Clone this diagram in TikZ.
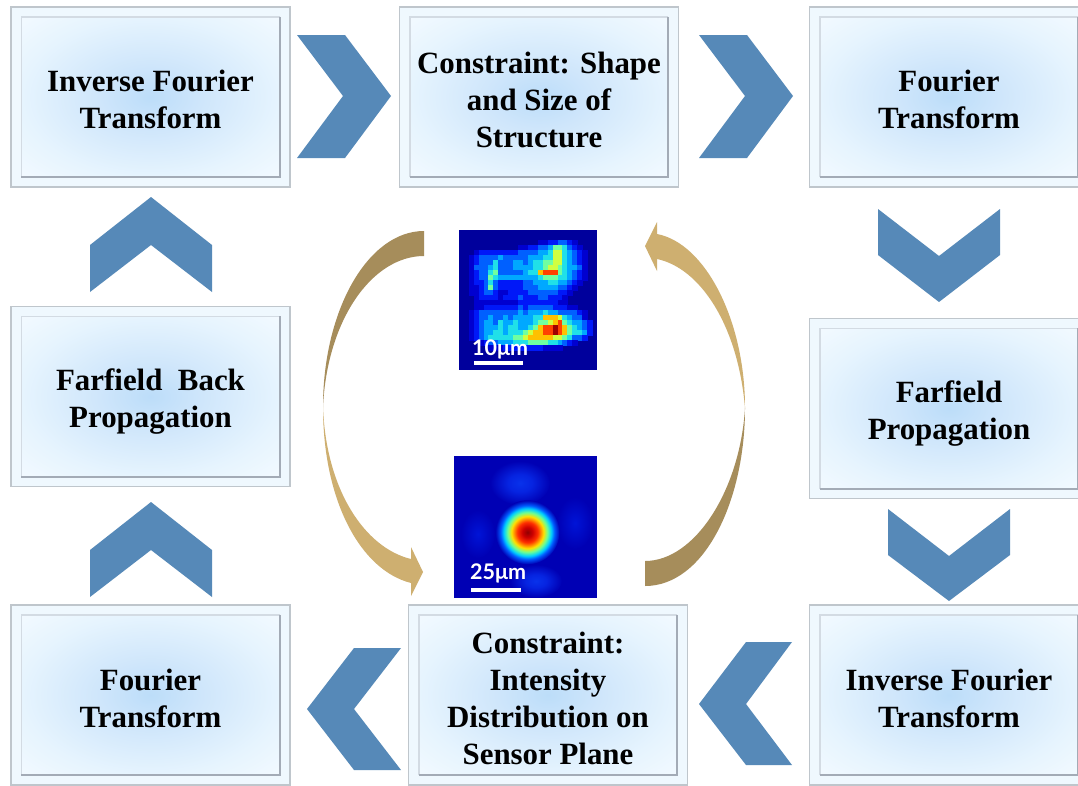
\documentclass[tikz,border=0pt]{standalone}
\usepackage{fontspec}
\setmainfont{Liberation Serif}
\newfontfamily\scalefont{Lato}
\definecolor{chev}{HTML}{5689B8}
\definecolor{darkgold}{HTML}{A68D5B}
\definecolor{lightgold}{HTML}{CEAF70}
\definecolor{ringfill}{HTML}{EFF8FE}
\definecolor{ringedge}{HTML}{BFC6CC}
\definecolor{innerlight}{HTML}{D3DBE3}
\definecolor{innerdark}{HTML}{A3ABB6}
\definecolor{heatA}{HTML}{00009C}
\definecolor{heatB}{HTML}{0000B4}
\definecolor{hmc0}{HTML}{00009C}
\definecolor{hmc1}{HTML}{0000D0}
\definecolor{hmc2}{HTML}{0018F8}
\definecolor{hmc3}{HTML}{0060FF}
\definecolor{hmc4}{HTML}{00A8FF}
\definecolor{hmc5}{HTML}{20E0E8}
\definecolor{hmc6}{HTML}{70FFA0}
\definecolor{hmc7}{HTML}{D0FF40}
\definecolor{hmc8}{HTML}{FFC000}
\definecolor{hmc9}{HTML}{FF4000}
\definecolor{hmca}{HTML}{A00000}
\definecolor{gl0}{HTML}{BCDDF9}
\definecolor{gl1}{HTML}{CFE6FB}
\definecolor{gl2}{HTML}{E6F4FE}
\definecolor{gl3}{HTML}{F3FAFF}
\definecolor{js0}{HTML}{900000}
\definecolor{js1}{HTML}{CD0000}
\definecolor{js2}{HTML}{FF3000}
\definecolor{js3}{HTML}{FFE000}
\definecolor{js4}{HTML}{70FF90}
\definecolor{js5}{HTML}{00D0FF}
\definecolor{js6}{HTML}{005AFF}
\definecolor{lobe1}{HTML}{0832EB}
\definecolor{lobe2}{HTML}{0624E1}
\definecolor{lobe3}{HTML}{0014D7}
\pgfdeclareradialshading{boxglow}{\pgfpoint{0bp}{0bp}}{%
  color(0bp)=(gl0);
  color(10bp)=(gl1);
  color(25bp)=(gl2);
  color(36bp)=(gl3);
  color(50bp)=(gl3)}
\pgfdeclareradialshading{jetspot}{\pgfpoint{0bp}{0bp}}{%
  color(0bp)=(js0);
  color(4bp)=(js1);
  color(8bp)=(js2);
  color(12.5bp)=(js3);
  color(15.5bp)=(js4);
  color(18.5bp)=(js5);
  color(21bp)=(js6);
  color(25bp)=(heatB);
  color(50bp)=(heatB)}
\pgfdeclareradialshading{lobeA}{\pgfpoint{0bp}{0bp}}{%
  color(0bp)=(lobe1);
  color(10bp)=(lobe2);
  color(25bp)=(heatB);
  color(50bp)=(heatB)}
\pgfdeclareradialshading{lobeB}{\pgfpoint{0bp}{0bp}}{%
  color(0bp)=(lobe3);
  color(25bp)=(heatB);
  color(50bp)=(heatB)}
\tikzset{
  x=1pt,y=-1pt,
  outerbox/.style={draw=ringedge,line width=1.3pt,fill=ringfill,minimum width=279pt,minimum height=180pt,inner sep=0pt},
  innerbox/.style={shade,shading=boxglow,minimum width=258pt,minimum height=160pt,inner sep=0pt},
  boxlabel/.style={font=\fontsize{30.9}{37}\selectfont\bfseries,align=center,inner sep=0pt,text=black},
  chevron/.style={fill=chev,draw=none},
  scalelabel/.style={font=\scalefont\fontsize{21.5}{21}\selectfont\bfseries,text=white,inner sep=0pt},
  scalebar/.style={fill=white,draw=none},
}
% a box: name, centre x, centre y, text centre y, text
\newcommand{\flowbox}[5]{%
  \node[outerbox] (#1o) at (#2,#3) {};
  \node[innerbox] (#1i) at (#2,#3) {};
  \draw[innerlight,line width=1.4pt] (#1i.south west) -- (#1i.north west) -- (#1i.north east);
  \draw[innerdark,line width=1.8pt] (#1i.north east) -- (#1i.south east) -- (#1i.south west);
  \node[boxlabel] (#1) at (#2,#4) {#5};
}
% one row of the pixel map
\makeatletter
\newcount\hmcol
\newcount\hmrow
\newcommand{\hmline}[1]{\hmcol=0 \hm@scan#1\relax \global\advance\hmrow by 1 }
\def\hm@scan#1{\ifx#1\relax\else
  \if#10\else
  \fill[fill=hmc#1,draw=hmc#1,line width=.2pt] ({459+\the\hmcol*4.93},{230+\the\hmrow*5}) rectangle ++(4.93,5);
  \fi
  \advance\hmcol by 1
  \expandafter\hm@scan\fi}
\makeatother
\begin{document}
\begin{tikzpicture}
\useasboundingbox (0,0) rectangle (1078,785);
\clip (0,0) rectangle (1078,785);
\fill[white] (0,0) rectangle (1078,785);

\flowbox{a}{150.5}{97}{99.5}{Inverse Fourier\\Transform}
\flowbox{b}{539}{97}{100}{Constraint: Shape\\and Size of\\Structure}
\flowbox{c}{949}{97}{99.5}{Fourier\\Transform}
\flowbox{d}{150.5}{396.5}{401.5}{Farfield~ Back\\Propagation}
\flowbox{e}{949}{408.5}{413.5}{Farfield\\Propagation}
\flowbox{f}{150.5}{695}{698.5}{Fourier\\Transform}
\flowbox{g}{548}{695}{698.5}{Constraint:\\Intensity\\Distribution on\\Sensor Plane}
\flowbox{h}{949}{695}{698.5}{Inverse Fourier\\Transform}

% chevrons
\fill[chevron] (297,35) -- (345,35) -- (391,96) -- (345,158) -- (297,158) -- (343,96) -- cycle;
\fill[chevron] (699,35) -- (747,35) -- (793,96) -- (747,158) -- (699,158) -- (745,96) -- cycle;
\fill[chevron] (878,209) -- (939,256) -- (1000,209) -- (1000,255) -- (939,302) -- (878,255) -- cycle;
\fill[chevron] (888,509) -- (949,556) -- (1010,509) -- (1010,555) -- (949,601) -- (888,555) -- cycle;
\fill[chevron] (90,245) -- (151,197) -- (212,245) -- (212,292) -- (151,245) -- (90,292) -- cycle;
\fill[chevron] (90,550) -- (151,502) -- (212,550) -- (212,597) -- (151,550) -- (90,597) -- cycle;
\fill[chevron] (792,642) -- (746,642) -- (699,704) -- (746,765) -- (792,765) -- (746,704) -- cycle;
\fill[chevron] (401,648) -- (354,648) -- (307,709) -- (354,770) -- (401,770) -- (354,709) -- cycle;

% curved arrows, left
\fill[darkgold] (424,231) .. controls (368,231) and (323,310) .. (323,407)
  .. controls (327,320) and (372,256) .. (424,256) -- cycle;
\fill[lightgold] (323,407) .. controls (323,500) and (360,570) .. (411,583)
  -- (411,596) -- (423,572) -- (411,547) -- (411,559)
  .. controls (365,548) and (326,490) .. (323,407) -- cycle;
% curved arrows, right
\fill[lightgold] (745,408) .. controls (745,320) and (705,243) .. (657,234)
  -- (657,222) -- (645,246) -- (657,271) -- (657,259)
  .. controls (700,268) and (738,325) .. (745,408) -- cycle;
\fill[darkgold] (745,408) .. controls (745,500) and (705,586) .. (645,586)
  -- (645,561) .. controls (695,561) and (740,490) .. (745,408) -- cycle;

% upper heat map
\fill[heatA] (459,230) rectangle (597,370);
\hmrow=0
\hmline{0000000000000000000000000000}
\hmline{0000000000000000000000000000}
\hmline{0000000000000000112233210000}
\hmline{0000000000001122334665321000}
\hmline{0001222222223333445775432100}
\hmline{0012333343333344455775432100}
\hmline{0012333533344345566775432100}
\hmline{0013334533344445567765443100}
\hmline{0012335633333455899965432100}
\hmline{0012336544444444566655432100}
\hmline{0012235322222334445544321000}
\hmline{0011236322222333444433210000}
\hmline{0011233211222233333322100000}
\hmline{0001222212223222332221000000}
\hmline{0001111111112222222211000000}
\hmline{0001122222223233333222110000}
\hmline{0012333333334344454433332100}
\hmline{0012334334344445588875433100}
\hmline{0012344354454445667896544320}
\hmline{0012344454554456899a98654320}
\hmline{0012344554555678899a98655420}
\hmline{0012345555566788888776533200}
\hmline{0000123344455566665543210000}
\hmline{0000001112222222211110000000}
\hmline{0000000000000000000000000000}
\hmline{0000000000000000000000000000}
\hmline{0000000000000000000000000000}
\hmline{0000000000000000000000000000}
\node[scalelabel,anchor=west] (s1) at (472,349) {10μm};
\fill[scalebar] (474,360.5) rectangle (523,364.5);

% lower heat map
\begin{scope}
\clip (454,456) rectangle (597,598);
\fill[heatB] (454,456) rectangle (597,598);
\shade[shading=lobeA] (520,483) ellipse (30 and 22);
\shade[shading=lobeA] (536,581) ellipse (26 and 16.5);
\shade[shading=lobeB] (575,523) ellipse (18 and 26);
\shade[shading=lobeB] (478,534) ellipse (17 and 24);
\shade[shading=jetspot] (527.5,532.3) circle (32);
\end{scope}
\node[scalelabel,anchor=west] (s2) at (470,573) {25μm};
\fill[scalebar] (471,588) rectangle (521,592);
\end{tikzpicture}
\end{document}
